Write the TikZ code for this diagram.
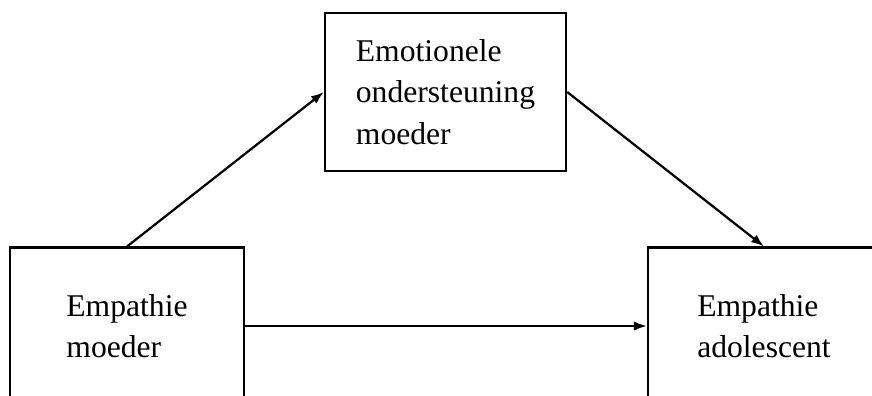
\documentclass[tikz,border=0pt]{standalone}
\usepackage{fontspec}
\setmainfont{Liberation Serif}
\usetikzlibrary{arrows.meta}

\begin{document}
\begin{tikzpicture}[x=0.03cm, y=-0.03cm,
  box/.style={draw, line width=2pt, align=left, inner sep=0pt,
    font=\fontsize{27}{35.5}\selectfont},
  arr/.style={-{Latex[length=11pt,width=8pt]}, line width=1.9pt}]
\useasboundingbox (0,0) rectangle (872,396);
\clip (0,0) rectangle (872,396);

% Boxes
\node[box, minimum width=7.02cm, minimum height=4.7cm] (empm) at (127,326) {Empathie\\moeder};
\node[box, minimum width=7.23cm, minimum height=4.74cm] (emo) at (445.5,92) {Emotionele\\ondersteuning\\moeder};
\node[box, minimum width=6.96cm, minimum height=4.7cm] (empa) at (764,326) {Empathie\\adolescent};

% Arrows
\draw[arr] (empm.north) -- (emo.west);
\draw[arr] (emo.east) -- (empa.north);
\draw[arr] (empm.east) -- (empa.west);
\end{tikzpicture}
\end{document}
